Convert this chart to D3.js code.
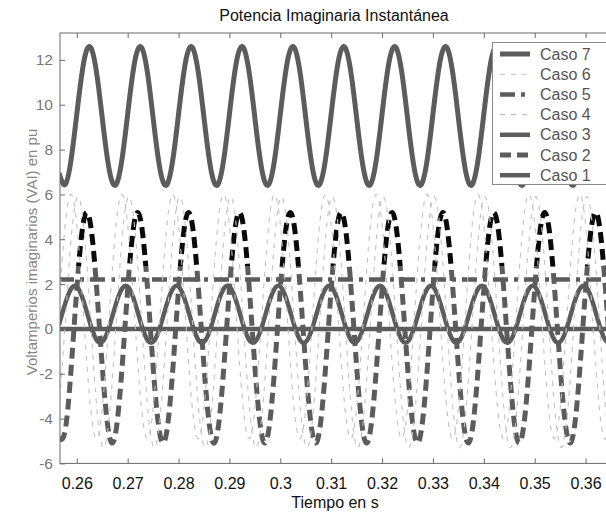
<!DOCTYPE html>
<html>
<head>
<meta charset="utf-8">
<script src="https://cdn.jsdelivr.net/npm/d3@7"></script>
<style>
  body { margin: 0; background: #fff; }
  svg text { font-family: "Liberation Sans", Arial, Helvetica, sans-serif; }
</style>
</head>
<body>
<svg id="chart" width="606" height="515"></svg>
<script>
// Sample instants (s)
const timeS = [
  0.2565, 0.25775, 0.259, 0.26025, 0.2615, 0.26275, 0.264, 0.26525,
  0.2665, 0.26775, 0.269, 0.27025, 0.2715, 0.27275, 0.274, 0.27525,
  0.2765, 0.27775, 0.279, 0.28025, 0.2815, 0.28275, 0.284, 0.28525,
  0.2865, 0.28775, 0.289, 0.29025, 0.2915, 0.29275, 0.294, 0.29525,
  0.2965, 0.29775, 0.299, 0.30025, 0.3015, 0.30275, 0.304, 0.30525,
  0.3065, 0.30775, 0.309, 0.31025, 0.3115, 0.31275, 0.314, 0.31525,
  0.3165, 0.31775, 0.319, 0.32025, 0.3215, 0.32275, 0.324, 0.32525,
  0.3265, 0.32775, 0.329, 0.33025, 0.3315, 0.33275, 0.334, 0.33525,
  0.3365, 0.33775, 0.339, 0.34025, 0.3415, 0.34275, 0.344, 0.34525,
  0.3465, 0.34775, 0.349, 0.35025, 0.3515, 0.35275, 0.354, 0.35525,
  0.3565, 0.35775, 0.359, 0.36025, 0.3615, 0.36275, 0.364, 0.36525
];
const constTimeS = [0.2565, 0.36525];

// Instantaneous imaginary power per case (pu)
const caso1 = [0, 0];
const caso2 = [
  -4.88, -4.48, -1.42, 2.50, 4.98, 4.58, 1.52, -2.40,
  -4.88, -4.48, -1.42, 2.50, 4.98, 4.58, 1.52, -2.40,
  -4.88, -4.48, -1.42, 2.50, 4.98, 4.58, 1.52, -2.40,
  -4.88, -4.48, -1.42, 2.50, 4.98, 4.58, 1.52, -2.40,
  -4.88, -4.48, -1.42, 2.50, 4.98, 4.58, 1.52, -2.40,
  -4.88, -4.48, -1.42, 2.50, 4.98, 4.58, 1.52, -2.40,
  -4.88, -4.48, -1.42, 2.50, 4.98, 4.58, 1.52, -2.40,
  -4.88, -4.48, -1.42, 2.50, 4.98, 4.58, 1.52, -2.40,
  -4.88, -4.48, -1.42, 2.50, 4.98, 4.58, 1.52, -2.40,
  -4.88, -4.48, -1.42, 2.50, 4.98, 4.58, 1.52, -2.40,
  -4.88, -4.48, -1.42, 2.50, 4.98, 4.58, 1.52, -2.40
];
const caso3 = [
  0.18, 1.15, 1.83, 1.82, 1.12, 0.15, -0.53, -0.52,
  0.18, 1.15, 1.83, 1.82, 1.12, 0.15, -0.53, -0.52,
  0.18, 1.15, 1.83, 1.82, 1.12, 0.15, -0.53, -0.52,
  0.18, 1.15, 1.83, 1.82, 1.12, 0.15, -0.53, -0.52,
  0.18, 1.15, 1.83, 1.82, 1.12, 0.15, -0.53, -0.52,
  0.18, 1.15, 1.83, 1.82, 1.12, 0.15, -0.53, -0.52,
  0.18, 1.15, 1.83, 1.82, 1.12, 0.15, -0.53, -0.52,
  0.18, 1.15, 1.83, 1.82, 1.12, 0.15, -0.53, -0.52,
  0.18, 1.15, 1.83, 1.82, 1.12, 0.15, -0.53, -0.52,
  0.18, 1.15, 1.83, 1.82, 1.12, 0.15, -0.53, -0.52,
  0.18, 1.15, 1.83, 1.82, 1.12, 0.15, -0.53, -0.52
];
const caso4 = [
  -3.63, 0.35, 4.29, 5.90, 4.23, 0.25, -3.69, -5.30,
  -3.63, 0.35, 4.29, 5.90, 4.23, 0.25, -3.69, -5.30,
  -3.63, 0.35, 4.29, 5.90, 4.23, 0.25, -3.69, -5.30,
  -3.63, 0.35, 4.29, 5.90, 4.23, 0.25, -3.69, -5.30,
  -3.63, 0.35, 4.29, 5.90, 4.23, 0.25, -3.69, -5.30,
  -3.63, 0.35, 4.29, 5.90, 4.23, 0.25, -3.69, -5.30,
  -3.63, 0.35, 4.29, 5.90, 4.23, 0.25, -3.69, -5.30,
  -3.63, 0.35, 4.29, 5.90, 4.23, 0.25, -3.69, -5.30,
  -3.63, 0.35, 4.29, 5.90, 4.23, 0.25, -3.69, -5.30,
  -3.63, 0.35, 4.29, 5.90, 4.23, 0.25, -3.69, -5.30,
  -3.63, 0.35, 4.29, 5.90, 4.23, 0.25, -3.69, -5.30
];
const caso5 = [2.2, 2.2];
const caso6 = [
  1.03, 4.72, 5.98, 4.05, 0.07, -3.62, -4.88, -2.95,
  1.03, 4.72, 5.98, 4.05, 0.07, -3.62, -4.88, -2.95,
  1.03, 4.72, 5.98, 4.05, 0.07, -3.62, -4.88, -2.95,
  1.03, 4.72, 5.98, 4.05, 0.07, -3.62, -4.88, -2.95,
  1.03, 4.72, 5.98, 4.05, 0.07, -3.62, -4.88, -2.95,
  1.03, 4.72, 5.98, 4.05, 0.07, -3.62, -4.88, -2.95,
  1.03, 4.72, 5.98, 4.05, 0.07, -3.62, -4.88, -2.95,
  1.03, 4.72, 5.98, 4.05, 0.07, -3.62, -4.88, -2.95,
  1.03, 4.72, 5.98, 4.05, 0.07, -3.62, -4.88, -2.95,
  1.03, 4.72, 5.98, 4.05, 0.07, -3.62, -4.88, -2.95,
  1.03, 4.72, 5.98, 4.05, 0.07, -3.62, -4.88, -2.95
];
const caso7 = [
  6.95, 6.45, 7.74, 10.06, 12.05, 12.55, 11.26, 8.94,
  6.95, 6.45, 7.74, 10.06, 12.05, 12.55, 11.26, 8.94,
  6.95, 6.45, 7.74, 10.06, 12.05, 12.55, 11.26, 8.94,
  6.95, 6.45, 7.74, 10.06, 12.05, 12.55, 11.26, 8.94,
  6.95, 6.45, 7.74, 10.06, 12.05, 12.55, 11.26, 8.94,
  6.95, 6.45, 7.74, 10.06, 12.05, 12.55, 11.26, 8.94,
  6.95, 6.45, 7.74, 10.06, 12.05, 12.55, 11.26, 8.94,
  6.95, 6.45, 7.74, 10.06, 12.05, 12.55, 11.26, 8.94,
  6.95, 6.45, 7.74, 10.06, 12.05, 12.55, 11.26, 8.94,
  6.95, 6.45, 7.74, 10.06, 12.05, 12.55, 11.26, 8.94,
  6.95, 6.45, 7.74, 10.06, 12.05, 12.55, 11.26, 8.94
];

// Axis ticks
const xTickValues = [0.26, 0.27, 0.28, 0.29, 0.30, 0.31, 0.32, 0.33, 0.34, 0.35, 0.36];
const xTickLabels = ["0.26", "0.27", "0.28", "0.29", "0.3", "0.31", "0.32", "0.33", "0.34", "0.35", "0.36"];
const yTickValues = [-6, -4, -2, 0, 2, 4, 6, 8, 10, 12];
const yTickLabels = ["-6", "-4", "-2", "0", "2", "4", "6", "8", "10", "12"];

// Texts
const titleText = "Potencia Imaginaria Instantánea";
const xLabelText = "Tiempo en s";
const yLabelText = "Voltamperios imaginarios (VAI) en pu";

// ---- drawing ----
const svg = d3.select("#chart");
const plot = { left: 60, right: 611, top: 33, bottom: 463.4 };

const x = d3.scaleLinear().domain([0.2567, 0.365]).range([plot.left, plot.right]);
const y = d3.scaleLinear().domain([-6, 13.2]).range([plot.bottom, plot.top]);

const gray = "#5c5c5c";
const light = "#c2c2c2";

const series = [
  { name: "Caso 1", t: constTimeS, v: caso1, stroke: gray, width: 4.5, dash: null },
  { name: "Caso 2", t: timeS, v: caso2, stroke: "url(#caso2Shade)", legendStroke: gray, width: 5, dash: "11,6" },
  { name: "Caso 3", t: timeS, v: caso3, stroke: gray, width: 4.5, dash: null },
  { name: "Caso 4", t: timeS, v: caso4, stroke: light, width: 1.1, dash: "5,6" },
  { name: "Caso 5", t: constTimeS, v: caso5, stroke: gray, width: 4.5, dash: "15,6,4,6" },
  { name: "Caso 6", t: timeS, v: caso6, stroke: light, width: 1.1, dash: "5,6" },
  { name: "Caso 7", t: timeS, v: caso7, stroke: gray, width: 5, dash: null }
];

const defs = svg.append("defs");
defs.append("clipPath").attr("id", "plotClip")
  .append("rect")
  .attr("x", plot.left).attr("y", plot.top)
  .attr("width", plot.right - plot.left).attr("height", plot.bottom - plot.top);

// Caso 2 trace turns dark on its upper lobes
const shadeOffset = (y(2.8) - plot.top) / (plot.bottom - plot.top);
const grad = defs.append("linearGradient").attr("id", "caso2Shade")
  .attr("gradientUnits", "userSpaceOnUse")
  .attr("x1", 0).attr("x2", 0).attr("y1", plot.top).attr("y2", plot.bottom);
grad.append("stop").attr("offset", 0).attr("stop-color", "#0a0a0a");
grad.append("stop").attr("offset", shadeOffset).attr("stop-color", "#0a0a0a");
grad.append("stop").attr("offset", shadeOffset).attr("stop-color", gray);
grad.append("stop").attr("offset", 1).attr("stop-color", gray);

svg.append("rect").attr("width", 606).attr("height", 515).attr("fill", "#fff");

const lines = svg.append("g").attr("clip-path", "url(#plotClip)");
const lineGen = d3.line().curve(d3.curveNatural);

series.forEach(s => {
  const pts = s.t.map((t, i) => [x(t), y(s.v[i])]);
  lines.append("path")
    .attr("d", lineGen(pts))
    .attr("fill", "none")
    .attr("stroke", s.stroke)
    .attr("stroke-width", s.width)
    .attr("stroke-dasharray", s.dash)
    .attr("stroke-linejoin", "round");
});

// Axes (ticks pointing inwards)
const axisColor = "#6a6a6a";
const xAxis = d3.axisBottom(x).tickValues(xTickValues)
  .tickFormat((d, i) => xTickLabels[i]).tickSize(-5).tickPadding(14);
const gx = svg.append("g").attr("transform", `translate(0,${plot.bottom})`).call(xAxis);
gx.select(".domain").remove();
gx.selectAll("line").attr("stroke", axisColor);
gx.selectAll("text").attr("font-size", 16).attr("fill", "#111");

const xAxisTop = d3.axisTop(x).tickValues(xTickValues).tickFormat("").tickSize(-5);
const gxt = svg.append("g").attr("transform", `translate(0,${plot.top})`).call(xAxisTop);
gxt.select(".domain").remove();
gxt.selectAll("line").attr("stroke", axisColor);

const yAxis = d3.axisLeft(y).tickValues(yTickValues)
  .tickFormat((d, i) => yTickLabels[i]).tickSize(-5).tickPadding(7);
const gy = svg.append("g").attr("transform", `translate(${plot.left},0)`).call(yAxis);
gy.select(".domain").remove();
gy.selectAll("line").attr("stroke", axisColor);
gy.selectAll("text").attr("font-size", 15.5).attr("fill", "#777");

// Frame
svg.append("rect")
  .attr("x", plot.left).attr("y", plot.top)
  .attr("width", plot.right - plot.left).attr("height", plot.bottom - plot.top)
  .attr("fill", "none").attr("stroke", axisColor).attr("stroke-width", 1);

// Titles
svg.append("text").attr("x", 334).attr("y", 21).attr("text-anchor", "middle")
  .attr("font-size", 16).attr("fill", "#111").text(titleText);
svg.append("text").attr("x", 335).attr("y", 508).attr("text-anchor", "middle")
  .attr("font-size", 16).attr("fill", "#111").text(xLabelText);
svg.append("text").attr("transform", "translate(37,252) rotate(-90)")
  .attr("text-anchor", "middle").attr("font-size", 15).attr("fill", "#888").text(yLabelText);

// Legend, last case first
const legend = svg.append("g");
legend.append("rect").attr("x", 492.5).attr("y", 42.5).attr("width", 130).attr("height", 142)
  .attr("fill", "#fff").attr("stroke", "#8a8a8a");
series.slice().reverse().forEach((s, i) => {
  const ly = 54 + i * 20.2;
  legend.append("line").attr("x1", 500).attr("x2", 530).attr("y1", ly).attr("y2", ly)
    .attr("stroke", s.legendStroke || s.stroke).attr("stroke-width", s.width)
    .attr("stroke-dasharray", s.dash);
  legend.append("text").attr("x", 540).attr("y", ly).attr("dy", "0.35em")
    .attr("font-size", 16).attr("fill", "#555").text(s.name);
});
</script>
</body>
</html>
